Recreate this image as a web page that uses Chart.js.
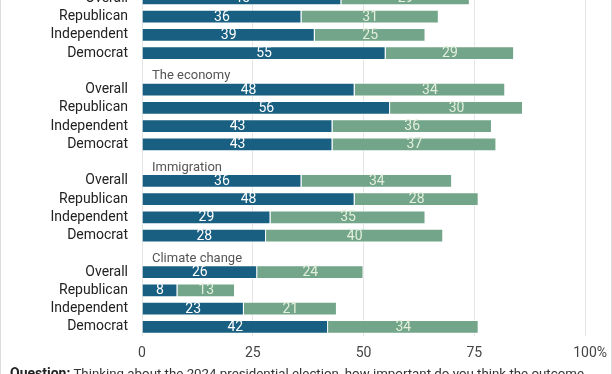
<!DOCTYPE html>
<html>
<head>
<meta charset="utf-8">
<script src="https://cdn.jsdelivr.net/npm/chart.js@4.4.1/dist/chart.umd.min.js"></script>
<style>
  html, body { margin: 0; padding: 0; background: #fff; }
  body { width: 612px; height: 374px; overflow: hidden; position: relative; font-family: Roboto, "Noto Sans", sans-serif; }
  #frame { position: absolute; left: 0; top: 0; width: 612px; height: 374px; box-sizing: border-box; border-left: 1px solid #dcdcdc; border-right: 1px solid #dcdcdc; pointer-events: none; }
  #wrap { position: absolute; left: 0; top: -29px; width: 612px; height: 403px; }
  #q { position: absolute; left: 10px; top: 365px; font-size: 13.3px; line-height: 16px; color: #333; white-space: nowrap; }
  #q b { color: #222; font-weight: 700; font-size: 14px; }
</style>
</head>
<body>
<div id="wrap"><canvas id="c" width="612" height="403"></canvas></div>
<div id="q"><b>Question:</b> Thinking about the 2024 presidential election, how important do you think the outcome</div>
<div id="frame"></div>
<script>
// ---- data ----
const groupTitles = ['', 'The economy', 'Immigration', 'Climate change'];
const subgroups = ['Overall', 'Republican', 'Independent', 'Democrat'];
const seriesNames = ['Extremely important', 'Very important'];
// values per group, order: Overall, Republican, Independent, Democrat
const group1Extremely = [45, 36, 39, 55];
const group1Very      = [29, 31, 25, 29];
const economyExtremely = [48, 56, 43, 43];
const economyVery      = [34, 30, 36, 37];
const immigrationExtremely = [36, 48, 29, 28];
const immigrationVery      = [34, 28, 35, 40];
const climateExtremely = [26, 8, 23, 42];
const climateVery      = [24, 13, 21, 34];
const xTicks = [0, 25, 50, 75, 100];
const xTickLabels = ['0', '25', '50', '75', '100'];

const extremelyGroups = [group1Extremely, economyExtremely, immigrationExtremely, climateExtremely];
const veryGroups = [group1Very, economyVery, immigrationVery, climateVery];

// build slots: a title slot then four subgroup rows per group
const labels = [], titleAt = {}, dA = [], dB = [];
groupTitles.forEach((t, g) => {
  titleAt[labels.length] = t;
  labels.push('');
  dA.push(null); dB.push(null);
  subgroups.forEach((s, i) => {
    labels.push(s);
    dA.push(extremelyGroups[g][i]);
    dB.push(veryGroups[g][i]);
  });
});

const FONT = 'Roboto, "Noto Sans", sans-serif';

const overlay = {
  id: 'overlay',
  afterDatasetsDraw(chart) {
    const ctx = chart.ctx;
    const xs = chart.scales.x, ys = chart.scales.y;
    ctx.save();
    // values inside bars
    ctx.font = '14px ' + FONT;
    ctx.textAlign = 'center';
    ctx.textBaseline = 'middle';
    chart.data.datasets.forEach((ds, di) => {
      const meta = chart.getDatasetMeta(di);
      meta.data.forEach((el, i) => {
        const v = ds.data[i];
        if (v == null) return;
        ctx.fillStyle = di === 0 ? '#ffffff' : '#e3efdb';
        ctx.fillText(String(v), (el.x + el.base) / 2, el.y + 0.5);
      });
    });
    // group titles
    ctx.font = '13px ' + FONT;
    ctx.textAlign = 'left';
    ctx.textBaseline = 'alphabetic';
    ctx.fillStyle = '#555555';
    Object.keys(titleAt).forEach(k => {
      const y = ys.getPixelForValue(Number(k));
      ctx.fillText(titleAt[k], xs.left + 10, y + 8);
    });
    // x tick labels (number centred on the grid line, % appended on the last)
    ctx.font = '14px ' + FONT;
    ctx.fillStyle = '#444444';
    ctx.textBaseline = 'middle';
    xTicks.forEach((t, i) => {
      const x = xs.getPixelForValue(t);
      const txt = xTickLabels[i];
      const w = ctx.measureText(txt).width;
      ctx.textAlign = 'left';
      ctx.fillText(txt, x - w / 2, xs.bottom - 21);
      if (i === xTicks.length - 1) ctx.fillText('%', x + w / 2, xs.bottom - 21);
    });
    ctx.restore();
  }
};

new Chart(document.getElementById('c'), {
  type: 'bar',
  data: {
    labels: labels,
    datasets: [
      { label: seriesNames[0], data: dA, backgroundColor: '#195f81', borderColor: 'rgba(255,255,255,0.55)', borderWidth: 1, barPercentage: 0.75, categoryPercentage: 1 },
      { label: seriesNames[1], data: dB, backgroundColor: '#72a589', borderColor: 'rgba(255,255,255,0.55)', borderWidth: 1, barPercentage: 0.75, categoryPercentage: 1 }
    ]
  },
  options: {
    indexAxis: 'y',
    responsive: false,
    animation: false,
    devicePixelRatio: 1,
    layout: { padding: { top: 0, right: 27, bottom: 0, left: 0 } },
    plugins: { legend: { display: false }, tooltip: { enabled: false } },
    scales: {
      x: {
        stacked: true, min: 0, max: 100,
        afterBuildTicks(s) { s.ticks = xTicks.map(v => ({ value: v })); },
        afterFit(s) { s.height = 38; s.paddingLeft = 0; s.paddingRight = 0; },
        ticks: { display: false },
        grid: { color: '#e5e5e5', lineWidth: 1, drawTicks: false },
        border: { display: false }
      },
      y: {
        stacked: true,
        afterFit(s) { s.width = 142; s.paddingTop = 0; s.paddingBottom = 0; },
        ticks: { color: '#222222', font: { family: FONT, size: 14 }, padding: 14, autoSkip: false },
        grid: { display: false, drawTicks: false },
        border: { display: false }
      }
    }
  },
  plugins: [overlay]
});
</script>
</body>
</html>
